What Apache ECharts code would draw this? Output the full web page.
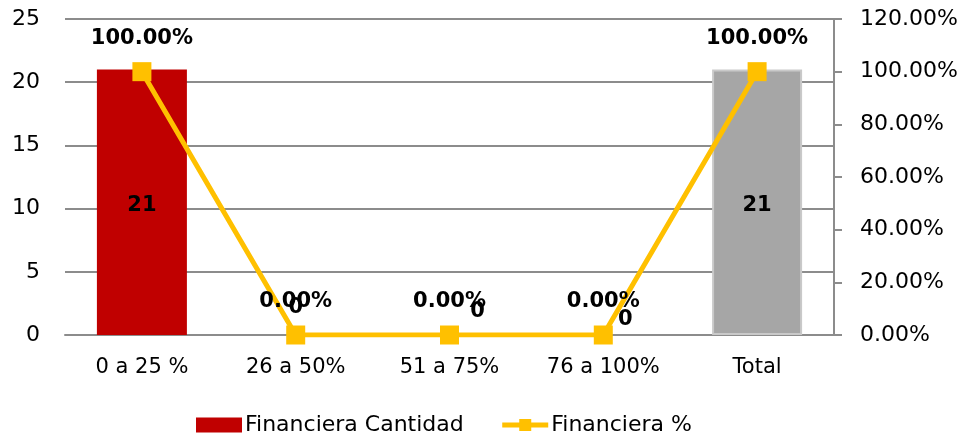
<!DOCTYPE html>
<html>
<head>
<meta charset="utf-8">
<script src="https://cdn.jsdelivr.net/npm/echarts@6/dist/echarts.min.js"></script>
<style>
  html, body { margin: 0; padding: 0; background: #fff; }
  #chart { width: 966px; height: 440px; }
</style>
</head>
<body>
<div id="chart"></div>
<script>
// datos de la gráfica
const categorias = ['0 a 25 %', '26 a 50%', '51 a 75%', '76 a 100%', 'Total'];
const cantidad = [21, 0, 0, 0, 21];
const porcentaje = [100, 0, 0, 0, 100];
const nombreBarra = 'Financiera Cantidad';
const nombreLinea = 'Financiera %';

const FONT = 'DejaVu Sans';
const chart = echarts.init(document.getElementById('chart'));

// los "0" de Excel quedan desplazados en cada categoría
const ceroOffset = [null, [0, -27], [28, -23], [22, -15], null];

chart.setOption({
    animation: false,
    textStyle: { fontFamily: FONT },
    grid: { left: 65, right: 132, top: 19, bottom: 105 },
    legend: {
        top: 409,
        left: 191,
        itemGap: 36,
        itemWidth: 46,
        itemHeight: 15,
        textStyle: { fontFamily: FONT, fontSize: 22, color: '#000', padding: [0, 0, 0, -2] },
        data: [
            { name: nombreBarra, icon: 'rect' },
            { name: nombreLinea, lineStyle: { width: 5, color: '#FFC000' } }
        ]
    },
    xAxis: {
        type: 'category',
        data: categorias,
        axisLine: { lineStyle: { color: '#8c8c8c', width: 2 } },
        axisTick: { show: false },
        axisLabel: { color: '#000', fontSize: 21, margin: 22, interval: 0, fontFamily: FONT }
    },
    yAxis: [
        {
            type: 'value',
            min: 0, max: 25, interval: 5,
            axisLine: { show: false },
            axisTick: { show: false },
            axisLabel: { color: '#000', fontSize: 22, margin: 25, fontFamily: FONT },
            splitLine: { lineStyle: { color: '#8c8c8c', width: 2 } }
        },
        {
            type: 'value',
            position: 'right',
            min: 0, max: 120, interval: 20,
            axisLine: { show: true, lineStyle: { color: '#8c8c8c', width: 2 } },
            axisTick: { show: true, length: 8, lineStyle: { color: '#8c8c8c', width: 2 } },
            axisLabel: {
                color: '#000', fontSize: 22, margin: 26, fontFamily: FONT,
                formatter: v => v.toFixed(2) + '%'
            },
            splitLine: { show: false }
        }
    ],
    series: [
        {
            name: nombreBarra,
            type: 'bar',
            barWidth: 90,
            itemStyle: { color: '#C00000' },
            label: {
                show: true,
                position: 'inside',
                offset: [0, 3],
                color: '#000',
                fontWeight: 'bold',
                fontSize: 21,
                fontFamily: FONT
            },
            data: cantidad.map((v, i) => {
                const item = { value: v };
                if (i === categorias.length - 1) {
                    item.itemStyle = { color: '#A6A6A6', borderColor: '#C9C9C9', borderWidth: 2 };
                }
                if (ceroOffset[i]) {
                    item.label = { offset: ceroOffset[i] };
                }
                return item;
            })
        },
        {
            name: nombreLinea,
            type: 'line',
            yAxisIndex: 1,
            symbol: 'rect',
            symbolSize: 19,
            z: 3,
            lineStyle: { color: '#FFC000', width: 5 },
            itemStyle: { color: '#FFC000' },
            label: {
                show: true,
                position: 'top',
                distance: 13,
                color: '#000',
                fontWeight: 'bold',
                fontSize: 21,
                fontFamily: FONT,
                formatter: p => p.value.toFixed(2) + '%'
            },
            data: porcentaje
        }
    ]
});
</script>
</body>
</html>
